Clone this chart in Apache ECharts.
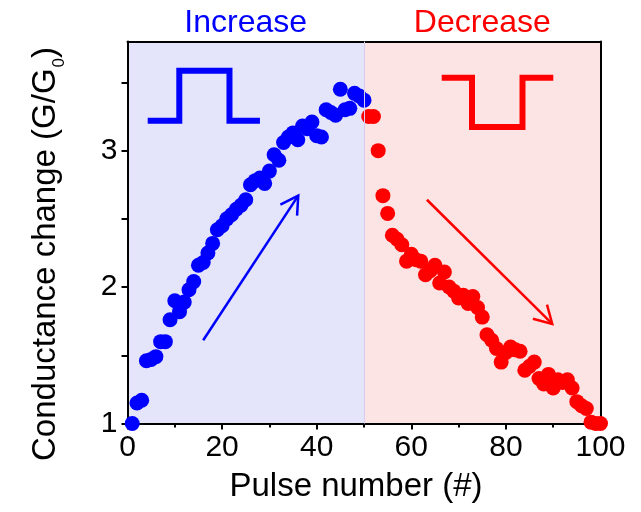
<!DOCTYPE html>
<html>
<head>
<meta charset="utf-8">
<script src="https://cdn.jsdelivr.net/npm/echarts@6/dist/echarts.min.js"></script>
<style>
  html, body { margin: 0; padding: 0; background: #ffffff; }
  #chart { width: 641px; height: 512px; }
</style>
</head>
<body>
<div id="chart"></div>
<script>
const FONT = '"Liberation Sans", Arial, sans-serif';

// Axis ticks and labels
const xTickLabels = [0, 20, 40, 60, 80, 100];
const yTickMarks = [1, 1.5, 2, 2.5, 3, 3.5];
const yTickLabels = [1, 2, 3];

// Potentiation phase: pulse number and conductance change G/G0
const increasePulses = [1, 2, 3, 4, 5, 6, 7, 8, 9, 10,
  11, 12, 13, 14, 15, 16, 17, 18, 19, 20,
  21, 22, 23, 24, 25, 26, 27, 28, 29, 30,
  31, 32, 33, 34, 35, 36, 37, 38, 39, 40,
  41, 42, 43, 44, 45, 46, 47, 48, 49, 50];
const increaseValues = [1.00, 1.15, 1.17, 1.46, 1.47, 1.49, 1.60, 1.60, 1.76, 1.90,
  1.82, 1.89, 1.98, 2.04, 2.16, 2.18, 2.25, 2.32, 2.42, 2.45,
  2.50, 2.53, 2.57, 2.60, 2.64, 2.75, 2.78, 2.80, 2.76, 2.85,
  2.97, 2.93, 3.06, 3.10, 3.13, 3.08, 3.18, 3.16, 3.21, 3.11,
  3.10, 3.30, 3.28, 3.26, 3.45, 3.30, 3.31, 3.42, 3.40, 3.37];

// Depression phase
const decreasePulses = [51, 52, 53, 54, 55, 56, 57, 58, 59, 60,
  61, 62, 63, 64, 65, 66, 67, 68, 69, 70,
  71, 72, 73, 74, 75, 76, 77, 78, 79, 80,
  81, 82, 83, 84, 85, 86, 87, 88, 89, 90,
  91, 92, 93, 94, 95, 96, 97, 98, 99, 100];
const decreaseValues = [3.25, 3.25, 3.00, 2.67, 2.54, 2.38, 2.35, 2.31, 2.19, 2.24,
  2.20, 2.19, 2.09, 2.12, 2.16, 2.03, 2.11, 2.00, 1.97, 1.92,
  1.94, 1.88, 1.93, 1.85, 1.78, 1.65, 1.61, 1.55, 1.45, 1.52,
  1.56, 1.54, 1.53, 1.39, 1.42, 1.45, 1.33, 1.29, 1.36, 1.26,
  1.32, 1.30, 1.32, 1.26, 1.16, 1.13, 1.11, 1.01, 1.00, 1.00];

// Pulse shape sketches (in data units)
const increaseWave = [[4.27, 3.22], [10.95, 3.22], [10.95, 3.585], [21.56, 3.585], [21.56, 3.22], [28.0, 3.22]];
const decreaseWave = [[66.43, 3.535], [72.83, 3.535], [72.83, 3.174], [83.51, 3.174], [83.51, 3.535], [90.02, 3.535]];

// Trend arrows: [x0, y0, x1, y1]
const increaseArrow = [16.0, 1.61, 36.1, 2.67];
const decreaseArrow = [63.3, 2.64, 89.8, 1.73];

const BLUE = '#0000ff';
const RED = '#ff0000';

function toPairs(xs, ys) {
  return xs.map((x, i) => [x, ys[i]]);
}

// Straight arrow with an open V head
function renderArrow(color) {
  return function (params, api) {
    const p0 = api.coord([api.value(0), api.value(1)]);
    const p1 = api.coord([api.value(2), api.value(3)]);
    const ang = Math.atan2(p0[1] - p1[1], p0[0] - p1[0]);
    const len = 20, spread = Math.PI / 6;
    const a1 = [p1[0] + len * Math.cos(ang + spread), p1[1] + len * Math.sin(ang + spread)];
    const a2 = [p1[0] + len * Math.cos(ang - spread), p1[1] + len * Math.sin(ang - spread)];
    const style = { stroke: color, lineWidth: 2.5, fill: null, lineCap: 'butt' };
    return {
      type: 'group',
      children: [
        { type: 'polyline', shape: { points: [p0, p1] }, style: style },
        { type: 'polyline', shape: { points: [a1, p1, a2] }, style: style }
      ]
    };
  };
}

const chart = echarts.init(document.getElementById('chart'), null, { renderer: 'canvas' });

const boxAxisLine = { show: true, onZero: false, lineStyle: { color: '#000', width: 2 } };

chart.setOption({
  animation: false,
  backgroundColor: '#ffffff',
  textStyle: { fontFamily: FONT },
  grid: { left: 127.5, right: 40.5, top: 41.5, bottom: 88.5, containLabel: false },
  xAxis: [
    {
      type: 'value', min: 0, max: 100, interval: 20, z: 2,
      axisLine: boxAxisLine,
      axisTick: { show: true, inside: false, length: 6, lineStyle: { color: '#000', width: 2 } },
      minorTick: { show: true, splitNumber: 2, length: 4, lineStyle: { color: '#000', width: 2 } },
      splitLine: { show: false },
      axisLabel: {
        fontSize: 30, color: '#000', margin: 9, fontFamily: FONT,
        customValues: xTickLabels
      },
      name: 'Pulse number (#)',
      nameLocation: 'middle',
      nameGap: 47,
      nameTextStyle: { fontSize: 33, color: '#000', fontFamily: FONT, padding: [0, 16, 0, 0] }
    },
    {
      type: 'value', min: 0, max: 100, position: 'top', z: 2,
      axisLine: boxAxisLine,
      axisTick: { show: false }, axisLabel: { show: false }, splitLine: { show: false }
    }
  ],
  yAxis: [
    {
      type: 'value', min: 1, max: 3.8, z: 2,
      axisLine: boxAxisLine,
      axisTick: { show: true, inside: false, length: 6, customValues: yTickMarks, lineStyle: { color: '#000', width: 2 } },
      splitLine: { show: false },
      axisLabel: {
        fontSize: 30, color: '#000', margin: 10, fontFamily: FONT,
        customValues: yTickLabels
      }
    },
    {
      type: 'value', min: 1, max: 3.8, position: 'right', z: 2,
      axisLine: boxAxisLine,
      axisTick: { show: false }, axisLabel: { show: false }, splitLine: { show: false }
    }
  ],
  graphic: [
    {
      type: 'text', x: 245.7, y: 23, z: 10,
      style: { text: 'Increase', fontSize: 32, fontFamily: FONT, fill: BLUE, align: 'center', verticalAlign: 'middle' }
    },
    {
      type: 'text', x: 482.3, y: 23, z: 10,
      style: { text: 'Decrease', fontSize: 32, fontFamily: FONT, fill: RED, align: 'center', verticalAlign: 'middle' }
    },
    {
      type: 'text', x: 46, y: 254, rotation: Math.PI / 2, z: 10,
      style: {
        text: 'Conductance change (G/G{s|0})',
        fontSize: 33, fontFamily: FONT, fill: '#000', align: 'center', verticalAlign: 'middle',
        rich: {
          s: { fontSize: 17, fontFamily: FONT, fill: '#000', padding: [26, 0, 0, 1] }
        }
      }
    }
  ],
  series: [
    {
      // shaded backgrounds for the two phases
      type: 'line', data: [], z: 0, silent: true,
      markArea: {
        silent: true,
        data: [
          [{ xAxis: 0, itemStyle: { color: '#e4e4fa' } }, { xAxis: 50 }],
          [{ xAxis: 50, itemStyle: { color: '#fde4e4' } }, { xAxis: 100 }]
        ]
      },
      markLine: {
        silent: true, symbol: 'none', label: { show: false },
        lineStyle: { color: '#d6cdef', width: 1, type: 'solid' },
        data: [{ xAxis: 50 }]
      }
    },
    {
      name: 'Increase', type: 'scatter', z: 3,
      symbol: 'circle', symbolSize: 15,
      itemStyle: { color: BLUE, opacity: 1 },
      data: toPairs(increasePulses, increaseValues)
    },
    {
      name: 'Decrease', type: 'scatter', z: 3,
      symbol: 'circle', symbolSize: 15,
      itemStyle: { color: RED, opacity: 1 },
      data: toPairs(decreasePulses, decreaseValues)
    },
    {
      type: 'line', z: 3, silent: true, showSymbol: false, symbol: 'none',
      lineStyle: { color: BLUE, width: 6, cap: 'butt', join: 'miter' },
      data: increaseWave
    },
    {
      type: 'line', z: 3, silent: true, showSymbol: false, symbol: 'none',
      lineStyle: { color: RED, width: 6, cap: 'butt', join: 'miter' },
      data: decreaseWave
    },
    {
      type: 'custom', z: 3, silent: true,
      renderItem: renderArrow(BLUE),
      data: [increaseArrow]
    },
    {
      type: 'custom', z: 3, silent: true,
      renderItem: renderArrow(RED),
      data: [decreaseArrow]
    }
  ]
});
</script>
</body>
</html>
